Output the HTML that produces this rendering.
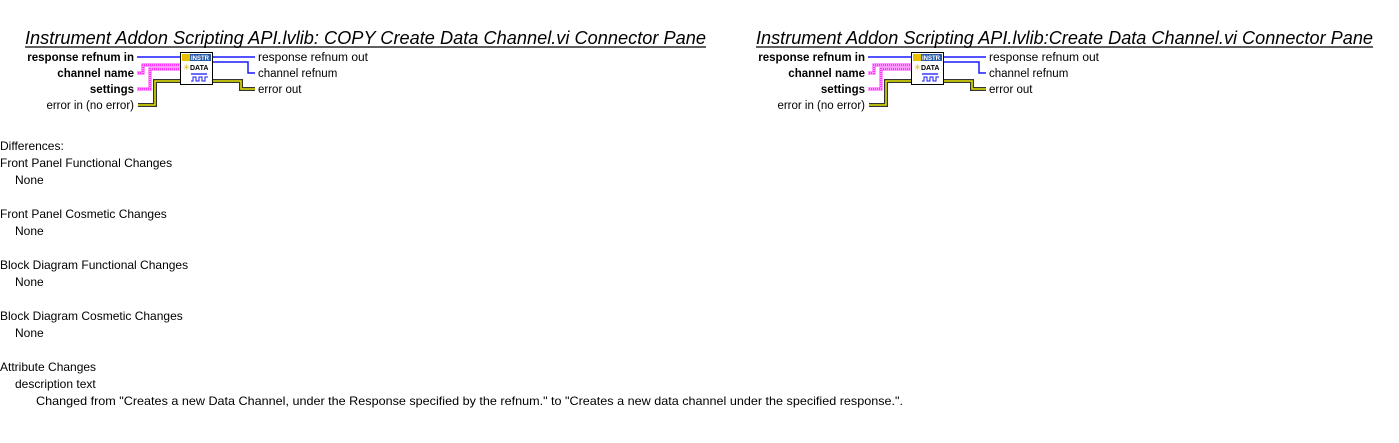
<!DOCTYPE html>
<html><head><meta charset="utf-8"><style>
html,body{margin:0;padding:0;background:#fff;width:1399px;height:443px;overflow:hidden}
svg{position:absolute;left:0;top:0}
text{font-family:"Liberation Sans",sans-serif;fill:#000}
</style></head><body>
<svg width="1399" height="443" viewBox="0 0 1399 443">
<defs>
<g id="pane">
  <line x1="137" y1="57" x2="180" y2="57" stroke="#1a1aff" stroke-width="1.5"/>
  <polyline points="137,73 143,73 143,65 180,65" fill="none" stroke="#ff33ff" stroke-width="3"/>
  <polyline points="137,73 143,73 143,65 180,65" fill="none" stroke="#fff" stroke-width="1" stroke-dasharray="1,1"/>
  <polyline points="137,89 150,89 150,69 180,69" fill="none" stroke="#ff33ff" stroke-width="3"/>
  <polyline points="137,89 150,89 150,69 180,69" fill="none" stroke="#fff" stroke-width="1" stroke-dasharray="1,1"/>
  <polyline points="138,105 155,105 155,81 180,81" fill="none" stroke="#333" stroke-width="4"/>
  <polyline points="138,105 155,105 155,81 180,81" fill="none" stroke="#e6e600" stroke-width="1.5"/>
  <line x1="212" y1="57" x2="255" y2="57" stroke="#1a1aff" stroke-width="1.5"/>
  <polyline points="212,62 248,62 248,73 255,73" fill="none" stroke="#1a1aff" stroke-width="1.5"/>
  <polyline points="212,81 241,81 241,89 255,89" fill="none" stroke="#333" stroke-width="4"/>
  <polyline points="212,81 241,81 241,89 255,89" fill="none" stroke="#e6e600" stroke-width="1.5"/>
  <rect x="180.5" y="52.5" width="32" height="32" fill="#fff" stroke="#000"/>
  <rect x="182" y="54" width="29" height="7" fill="#2a5ca8"/>
  <rect x="182" y="54" width="8" height="7" fill="#e8c000"/>
  <text x="191" y="60" font-size="6" font-weight="bold" style="fill:#fff">INSTR</text>
  <text x="183" y="70" font-size="8" style="fill:#d4b000">✳</text>
  <text x="190" y="70" font-size="7" font-weight="bold">DATA</text>
  <line x1="191" y1="74" x2="207" y2="74" stroke="#1a1aff" stroke-width="1.3"/>
  <polyline points="191,81 193,81 193,77 196,77 196,81 199,81 199,77 202,77 202,81 205,81 205,77 208,77" fill="none" stroke="#1a1aff" stroke-width="1"/>
  <g font-size="11.5" text-anchor="end">
    <text x="134" y="61" font-weight="bold">response refnum in</text>
    <text x="134" y="77" font-weight="bold">channel name</text>
    <text x="134" y="93" font-weight="bold">settings</text>
    <text x="134" y="109">error in (no error)</text>
  </g>
  <g font-size="11.5">
    <text x="258" y="61" textLength="110" lengthAdjust="spacingAndGlyphs">response refnum out</text>
    <text x="258" y="77">channel refnum</text>
    <text x="258" y="93">error out</text>
  </g>
</g>
</defs>
<text x="25" y="44" font-size="18" font-style="italic" textLength="681" lengthAdjust="spacingAndGlyphs">Instrument Addon Scripting API.lvlib:  COPY  Create Data Channel.vi Connector Pane</text>
<line x1="25" y1="47" x2="706" y2="47" stroke="#000" stroke-width="1.2"/>
<text x="756" y="44" font-size="18" font-style="italic" textLength="617" lengthAdjust="spacingAndGlyphs">Instrument Addon Scripting API.lvlib:Create Data Channel.vi Connector Pane</text>
<line x1="756" y1="47" x2="1373" y2="47" stroke="#000" stroke-width="1.2"/>
<use href="#pane"/>
<use href="#pane" x="731" y="0"/>
<g font-size="12">
<text x="0" y="150">Differences:</text>
<text x="0" y="167">Front Panel Functional Changes</text>
<text x="15" y="184">None</text>
<text x="0" y="218">Front Panel Cosmetic Changes</text>
<text x="15" y="235">None</text>
<text x="0" y="269">Block Diagram Functional Changes</text>
<text x="15" y="286">None</text>
<text x="0" y="320">Block Diagram Cosmetic Changes</text>
<text x="15" y="337">None</text>
<text x="0" y="371">Attribute Changes</text>
<text x="15" y="388">description text</text>
<text x="36" y="405" textLength="867" lengthAdjust="spacingAndGlyphs">Changed from "Creates a new Data Channel, under the Response specified by the refnum." to "Creates a new data channel under the specified response.".</text>
</g>
</svg>
</body></html>
